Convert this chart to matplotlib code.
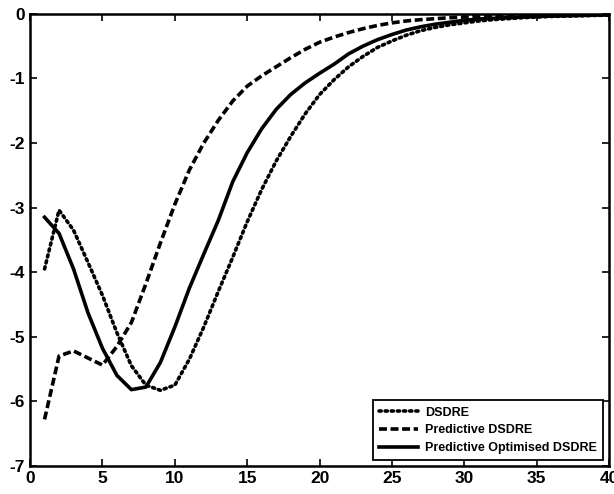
import matplotlib
matplotlib.use("Agg")
import matplotlib.pyplot as plt
import numpy as np

x = list(range(1, 41))

dsdre = [-3.95, -3.04, -3.35, -3.85, -4.36, -4.94, -5.45, -5.75, -5.83, -5.75,
         -5.35, -4.85, -4.30, -3.77, -3.22, -2.72, -2.28, -1.90, -1.55, -1.25,
         -1.02, -0.82, -0.66, -0.52, -0.42, -0.33, -0.26, -0.21, -0.17, -0.14,
         -0.11, -0.09, -0.075, -0.06, -0.05, -0.04, -0.035, -0.03, -0.025, -0.02]

pred_dsdre = [-6.28, -5.30, -5.22, -5.33, -5.44, -5.15, -4.78, -4.18, -3.55, -2.95,
              -2.42, -2.00, -1.65, -1.35, -1.12, -0.96, -0.82, -0.68, -0.55, -0.44,
              -0.36, -0.29, -0.23, -0.18, -0.14, -0.11, -0.09, -0.075, -0.06, -0.05,
              -0.04, -0.035, -0.03, -0.025, -0.02, -0.018, -0.015, -0.012, -0.01, -0.008]

pred_opt = [-3.15, -3.40, -3.95, -4.63, -5.18, -5.60, -5.82, -5.78, -5.40, -4.85,
            -4.25, -3.72, -3.20, -2.60, -2.15, -1.78, -1.48, -1.25, -1.07, -0.92,
            -0.78, -0.62, -0.50, -0.40, -0.32, -0.25, -0.20, -0.16, -0.13, -0.10,
            -0.08, -0.07, -0.06, -0.05, -0.04, -0.035, -0.03, -0.025, -0.02, -0.015]

labels = ["DSDRE", "Predictive DSDRE", "Predictive Optimised DSDRE"]
xticks = [0, 5, 10, 15, 20, 25, 30, 35, 40]
yticks = [0, -1, -2, -3, -4, -5, -6, -7]

plt.rcParams['font.family'] = ['Liberation Sans', 'DejaVu Sans']
plt.rcParams['axes.unicode_minus'] = False

fig = plt.figure(figsize=(6.14, 4.94), dpi=100)
ax = fig.add_axes([0.049, 0.057, 0.943, 0.915])

ax.plot(x, dsdre, color='black', linestyle=(0, (0.6, 1.1)), linewidth=2.6,
        dash_capstyle='round', label=labels[0])
ax.plot(x, pred_dsdre, color='black', linestyle=(0, (2.2, 1.0)), linewidth=2.6,
        label=labels[1])
ax.plot(x, pred_opt, color='black', linestyle='-', linewidth=2.6, label=labels[2])

ax.set_xlim(0, 40)
ax.set_ylim(-7, 0)
ax.set_xticks(xticks)
ax.set_yticks(yticks)
ax.tick_params(direction='in', top=True, right=True, length=5, width=1.2,
               labelsize=12.5)
for lab in ax.get_xticklabels() + ax.get_yticklabels():
    lab.set_fontweight('bold')
for s in ax.spines.values():
    s.set_linewidth(1.8)

leg = ax.legend(loc='lower right', fontsize=9, frameon=True, fancybox=False,
                edgecolor='black', framealpha=1, handlelength=3.1,
                handletextpad=0.6, borderpad=0.5, labelspacing=0.45,
                borderaxespad=0.45)
leg.get_frame().set_linewidth(1.3)
for t in leg.get_texts():
    t.set_fontweight('bold')

fig.savefig("out.png", dpi=100)
